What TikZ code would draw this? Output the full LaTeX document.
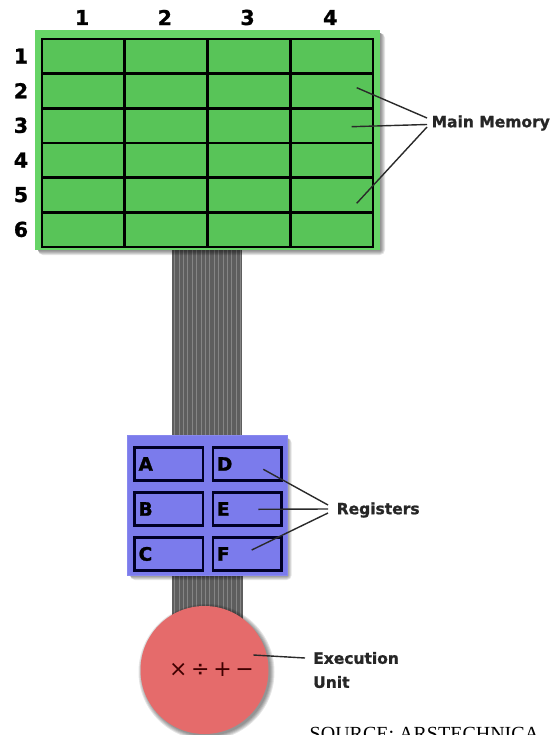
\documentclass[tikz,border=0pt]{standalone}
\usepackage{fontspec}
\setmainfont{DejaVu Sans}
\newfontfamily\heavy[BoldFont={DejaVu Sans Bold},BoldFeatures={FakeBold=1.2}]{DejaVu Sans}
\newfontfamily\srcfont{Liberation Serif}
\definecolor{memfill}{HTML}{58C458}
\definecolor{memedge}{HTML}{66D466}
\definecolor{regfill}{HTML}{7B7BEC}
\definecolor{euf}{HTML}{E56B6B}
\definecolor{busgray}{HTML}{5E5E5E}
\definecolor{busline}{HTML}{858585}
\definecolor{leader}{HTML}{2A2A2A}
\tikzset{
  memcell/.style={draw=black, line width=2.6pt, fill=memfill, minimum width=82.75pt, minimum height=34.67pt, inner sep=0pt, anchor=north west},
  regcell/.style={draw=black!85!blue, line width=2.6pt, fill=regfill, minimum width=68.4pt, minimum height=33.3pt, inner xsep=4pt, inner ysep=0pt, text width=60.4pt, align=left, anchor=north west, font=\heavy\fontsize{18.5}{20}\selectfont\bfseries},
  digit/.style={font=\heavy\fontsize{20.5}{22}\selectfont\bfseries, inner sep=0pt},
  lbl/.style={font=\heavy\fontsize{15.5}{24}\selectfont\bfseries, inner sep=0pt, anchor=west, align=left, text=black!85},
  leaderline/.style={draw=leader, line width=1.4pt},
  shadowlayer/.style={fill=black, opacity=0.1},
}
\begin{document}
\begin{tikzpicture}[x=1pt,y=-1pt]
\useasboundingbox (0,0) rectangle (559,735);
\fill[white] (0,0) rectangle (559,735);
% buses
\fill[busgray] (172,250) rectangle (242,436);
\foreach \i in {0,...,15} \draw[busline, line width=0.7pt] ({174.5+\i*4.4},250) -- ++(0,186);
\fill[busgray] (172,574) rectangle (243,625);
\foreach \i in {0,...,15} \draw[busline, line width=0.7pt] ({174.5+\i*4.4},574) -- ++(0,51);
% shadows
\foreach \k in {1,...,5} \fill[shadowlayer, rounded corners=\k pt] (38,33) rectangle ({380+\k},{250+\k});
\foreach \k in {1,...,5} \fill[shadowlayer, rounded corners=\k pt] (130,438) rectangle ({286.7+\k},{575+\k});
\foreach \k in {1,...,5} \fill[shadowlayer] (206.5,672) circle ({63+\k});
% main memory
\node[fill=memedge, minimum width=345pt, minimum height=220pt, inner sep=0pt, anchor=north west] (mem) at (35,30) {};
\foreach \r in {1,...,6} \foreach \c in {1,...,4}
  \node[memcell] (m-\r-\c) at ({40.7+(\c-1)*82.75},{37.7+(\r-1)*34.67}) {};
\foreach \c in {1,...,4} \node[digit] (col-\c) at ({40.7+(\c-0.5)*82.75},17.5) {\c};
\foreach \r in {1,...,6} \node[digit] (row-\r) at (21,{37.7+(\r-0.5)*34.67+1}) {\r};
\node[lbl] (mmlabel) at (431.5,123) {Main Memory};
\coordinate (mp1) at (356.7,87.7);
\coordinate (mp2) at (351.7,126.7);
\coordinate (mp3) at (356.7,203.3);
\draw[leaderline] (mp1) -- ([xshift=-4.5pt,yshift=5pt]mmlabel.west);
\draw[leaderline] (mp2) -- ([xshift=-4.5pt,yshift=-1.5pt]mmlabel.west);
\draw[leaderline] (mp3) -- ([xshift=-4.5pt,yshift=-4pt]mmlabel.west);
% registers
\node[fill=regfill, draw=regfill!90!white, line width=1pt, minimum width=159.4pt, minimum height=140pt, inner sep=0pt, anchor=north west] (regs) at (127.3,435) {};
\node[regcell] (rA) at (133.3,446) {A};
\node[regcell] (rB) at (133.3,491) {B};
\node[regcell] (rC) at (133.3,536) {C};
\node[regcell] (rD) at (211.7,446) {D};
\node[regcell] (rE) at (211.7,491) {E};
\node[regcell] (rF) at (211.7,536) {F};
\node[lbl] (reglabel) at (336.5,510) {Registers};
\coordinate (rp1) at (263.3,469.3);
\coordinate (rp2) at (258.3,509.3);
\coordinate (rp3) at (251.7,550);
\draw[leaderline] (rp1) -- ([xshift=-8.5pt,yshift=5pt]reglabel.west);
\draw[leaderline] (rp2) -- ([xshift=-8.5pt,yshift=1pt]reglabel.west);
\draw[leaderline] (rp3) -- ([xshift=-8.5pt,yshift=-3pt]reglabel.west);
% execution unit
\node[circle, fill=euf, minimum size=128pt, inner sep=0pt] (eu) at (204.5,670) {};
\node[font=\fontsize{22}{24}\selectfont, text=black!75!red, inner sep=0pt] (ops) at (211.5,670) {×\,÷\,+\,−};
\node[lbl] (eulabel) at (313,670) {Execution\\Unit};
\coordinate (ep) at (253.3,655);
\draw[leaderline] (ep) -- ([xshift=-8pt,yshift=12pt]eulabel.west);
% source
\node[font=\srcfont\fontsize{20}{22}\selectfont, inner sep=0pt, anchor=base west] (src) at (309.5,740) {SOURCE: ARSTECHNICA};
\end{tikzpicture}
\end{document}
